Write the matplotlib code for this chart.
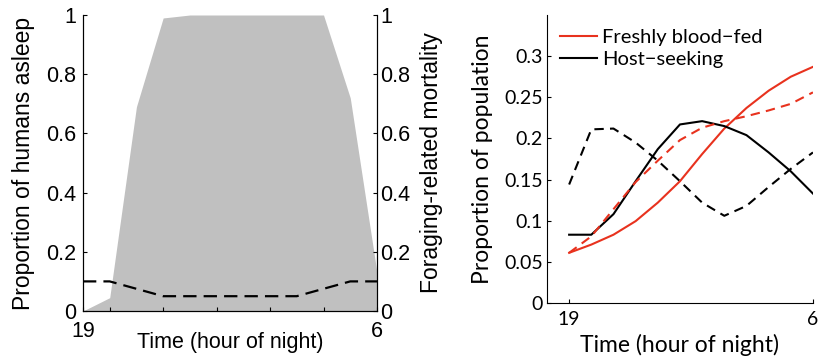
import matplotlib
matplotlib.use("Agg")
import matplotlib.pyplot as plt
import numpy as np

# hours of the night, 19:00 through 06:00 (6 -> 30)
hours = [19, 20, 21, 22, 23, 24, 25, 26, 27, 28, 29, 30]

# left panel
asleep = [0.0, 0.045, 0.69, 0.99, 1.0, 1.0, 1.0, 1.0, 1.0, 1.0, 0.72, 0.13]
mortality = [0.1, 0.1, 0.075, 0.05, 0.05, 0.05, 0.05, 0.05, 0.05, 0.075, 0.1, 0.1]

# right panel
fed_solid = [0.061, 0.071, 0.083, 0.0995, 0.122, 0.148, 0.181, 0.212, 0.237, 0.258, 0.275, 0.287]
fed_dash = [0.061, 0.081, 0.114, 0.147, 0.173, 0.198, 0.213, 0.221, 0.227, 0.234, 0.242, 0.256]
seek_solid = [0.083, 0.083, 0.108, 0.148, 0.187, 0.217, 0.221, 0.215, 0.204, 0.183, 0.160, 0.133]
seek_dash = [0.144, 0.211, 0.212, 0.195, 0.173, 0.148, 0.122, 0.106, 0.118, 0.141, 0.163, 0.183]

x_ticks_left = [19, 20, 22, 24, 26, 28, 30]
x_labels_left = ['19', '', '', '', '', '', '6']
y_ticks_left = [0, 0.2, 0.4, 0.6, 0.8, 1]
y_ticks_right = [0, 0.05, 0.1, 0.15, 0.2, 0.25, 0.3]

RED = '#e8321e'

fig = plt.figure(figsize=(8.24, 3.58), dpi=100)

# ---- left panel ----
lf = ['Liberation Sans', 'DejaVu Sans']
ax1 = fig.add_axes([0.1007, 0.1313, 0.3568, 0.8268])
ax1.fill_between(hours, 0, asleep, color='#c0c0c0', lw=0)
ax1.set_xlim(19, 30)
ax1.set_ylim(0, 1)
ax1.set_xticks(x_ticks_left)
ax1.set_xticklabels(x_labels_left)
ax1.set_yticks(y_ticks_left)
ax1.set_yticklabels(['%g' % v for v in y_ticks_left])
ax1.tick_params(direction='in', length=3, labelsize=15.5, width=0.8)
ax1.tick_params(axis='x', pad=7)
ax1.tick_params(axis='y', pad=5)
ax1.spines['top'].set_visible(False)
for lab in ax1.get_xticklabels() + ax1.get_yticklabels():
    lab.set_family(lf)
ax1.set_xlabel('Time (hour of night)', fontsize=15.5, family=lf, labelpad=-7)
ax1.set_ylabel('Proportion of humans asleep', fontsize=16.5, family=lf, labelpad=8)

ax2 = ax1.twinx()
ax2.plot(hours, mortality, color='black', lw=1.6, dashes=(6, 3.2))
ax2.set_ylim(0, 1)
ax2.set_yticks(y_ticks_left)
ax2.set_yticklabels(['%g' % v for v in y_ticks_left])
ax2.tick_params(direction='in', length=3, labelsize=15.5, width=0.8, pad=2.5)
ax2.spines['top'].set_visible(False)
for lab in ax2.get_yticklabels():
    lab.set_family(lf)
ax2.set_ylabel('Foraging-related mortality', fontsize=16.5, family=lf, labelpad=7)

# ---- right panel ----
rf = ['Lato', 'DejaVu Sans']
ax3 = fig.add_axes([0.6638, 0.1536, 0.3228, 0.8045])
ax3.plot(hours, fed_solid, color=RED, lw=1.5, label='Freshly blood\u2212fed')
ax3.plot(hours, seek_solid, color='black', lw=1.5, label='Host\u2212seeking')
ax3.plot(hours, fed_dash, color=RED, lw=1.5, dashes=(4.5, 3))
ax3.plot(hours, seek_dash, color='black', lw=1.5, dashes=(4.5, 3))
ax3.set_xlim(18, 30)
ax3.set_ylim(0, 0.35)
ax3.set_xticks([19, 30])
ax3.set_xticklabels(['19', '6'])
ax3.set_yticks(y_ticks_right)
ax3.set_yticklabels(['%g' % v for v in y_ticks_right])
ax3.tick_params(direction='in', length=3, labelsize=14, width=0.8)
ax3.tick_params(axis='x', pad=6)
ax3.tick_params(axis='y', pad=3)
ax3.spines['top'].set_visible(False)
ax3.spines['right'].set_visible(False)
for lab in ax3.get_xticklabels() + ax3.get_yticklabels():
    lab.set_family(rf)
ax3.set_xlabel('Time (hour of night)', fontsize=16.5, family=rf, labelpad=4)
ax3.set_ylabel('Proportion of population', fontsize=16.5, family=rf, labelpad=8)
ax3.legend(loc='upper left', frameon=False, prop={'family': rf, 'size': 14.5},
           handlelength=1.85, handletextpad=0.25, borderaxespad=0, borderpad=0,
           labelspacing=0.2, bbox_to_anchor=(0.049, 0.95))

fig.savefig('out.png', dpi=100)
